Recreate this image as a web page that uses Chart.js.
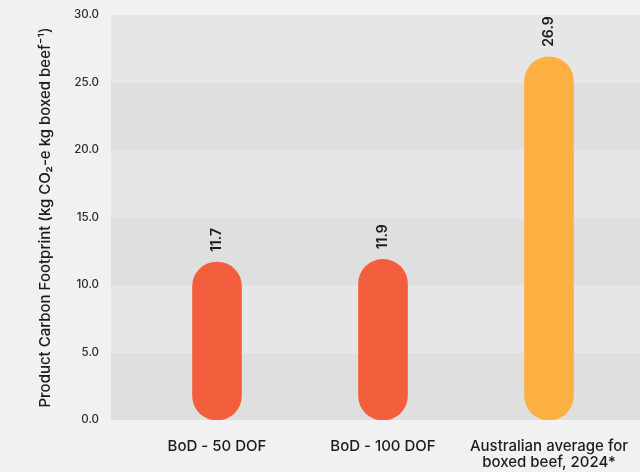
<!DOCTYPE html>
<html>
<head>
<meta charset="utf-8">
<script src="https://cdn.jsdelivr.net/npm/chart.js@4"></script>
<style>
  html, body { margin: 0; padding: 0; background: #f1f1f1; }
  #wrap { width: 640px; height: 472px; }
</style>
</head>
<body>
<div id="wrap"><canvas id="footprint"></canvas></div>
<script>

var categories = ["BoD - 50 DOF", "BoD - 100 DOF", ["Australian average for", "boxed beef, 2024*"]];
var values = [11.7, 11.9, 26.9];
var barColors = ["#f35f3d", "#f35f3d", "#fdb042"];
var yTicks = [0, 5, 10, 15, 20, 25, 30];

var textColor = "#1c1c1c";
var fontFamily = "Inter, 'Noto Sans', sans-serif";

// alternating horizontal bands behind the bars
var bandsPlugin = {
  id: "bands",
  beforeDatasetsDraw: function(chart) {
    var ctx = chart.ctx;
    var y = chart.scales.y;
    var left = chart.chartArea.left - 23;
    var right = chart.width;
    ctx.save();
    for (var i = 0; i < yTicks.length - 1; i++) {
      var top = y.getPixelForValue(yTicks[i + 1]);
      var bottom = y.getPixelForValue(yTicks[i]);
      ctx.fillStyle = (i % 2 == 0) ? "#dfdfdf" : "#e6e6e8";
      ctx.fillRect(left, top, right - left, bottom - top);
    }
    ctx.restore();
  }
};

// rotated value labels above each bar
var valueLabels = {
  id: "valueLabels",
  afterDatasetsDraw: function(chart) {
    var ctx = chart.ctx;
    var meta = chart.getDatasetMeta(0);
    ctx.save();
    ctx.fillStyle = textColor;
    ctx.font = "600 14px " + fontFamily;
    ctx.textAlign = "left";
    ctx.textBaseline = "middle";
    meta.data.forEach(function(bar, i) {
      ctx.save();
      ctx.translate(bar.x, bar.y - 10);
      ctx.rotate(-Math.PI / 2);
      ctx.fillText(values[i].toFixed(1), 0, 0);
      ctx.restore();
    });
    ctx.restore();
  }
};

var ctx = document.getElementById("footprint");
new Chart(ctx, {
  type: "bar",
  data: {
    labels: categories,
    datasets: [{
      data: values,
      backgroundColor: barColors,
      borderSkipped: false,
      borderRadius: 25,
      barThickness: 49
    }]
  },
  options: {
    responsive: true,
    maintainAspectRatio: false,
    animation: false,
    layout: { padding: { top: 15, right: 8, bottom: 0, left: 0 } },
    plugins: {
      legend: { display: false },
      tooltip: { enabled: false }
    },
    scales: {
      x: {
        grid: { display: false, drawTicks: false },
        border: { display: false },
        afterFit: function(scale) {
          scale.height = 52;
          scale.paddingLeft = 0;
          scale.paddingRight = 0;
        },
        ticks: {
          color: textColor,
          padding: 18,
          maxRotation: 0,
          autoSkip: false,
          font: { family: fontFamily, size: 15, weight: "500", lineHeight: 1.1 }
        }
      },
      y: {
        min: 0,
        max: 30,
        grid: { display: false, drawTicks: false },
        border: { display: false },
        afterFit: function(scale) {
          scale.width = 134;
          scale.paddingTop = 0;
          scale.paddingBottom = 0;
        },
        afterBuildTicks: function(scale) {
          scale.ticks = yTicks.map(function(v) { return { value: v }; });
        },
        ticks: {
          color: "#2a2a2a",
          padding: 35,
          font: { family: fontFamily, size: 11.5, weight: "500" },
          callback: function(v) { return v.toFixed(1); }
        },
        title: {
          display: true,
          text: "Product Carbon Footprint (kg CO\u2082-e kg boxed beef\u207B\u00B9)",
          color: textColor,
          padding: { top: 36, bottom: 0 },
          font: { family: fontFamily, size: 15, weight: "500" }
        }
      }
    }
  },
  plugins: [bandsPlugin, valueLabels]
});
</script>
</body>
</html>
